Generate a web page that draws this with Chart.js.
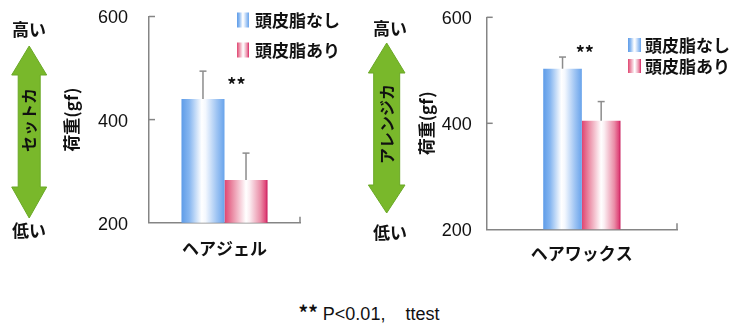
<!DOCTYPE html>
<html>
<head>
<meta charset="utf-8">
<script src="https://cdn.jsdelivr.net/npm/chart.js@4/dist/chart.umd.min.js"></script>
<style>
  html, body { margin: 0; padding: 0; background: #fff; }
  body { width: 745px; height: 324px; position: relative; overflow: hidden; }
  .panel { position: absolute; top: 0; }
  .panel canvas { display: block; }
  #note {
    position: absolute; left: 0; top: 298px; width: 738px; text-align: center;
    font: 18px "Liberation Sans", Arial, sans-serif; color: #111; white-space: pre;
  }
  #note b { font-family: "Noto Sans CJK JP", sans-serif; font-size: 19px; }
</style>
</head>
<body>
<div class="panel" style="left:0"><canvas id="gel" width="360" height="275"></canvas></div>
<div class="panel" style="left:360px"><canvas id="wax" width="385" height="275"></canvas></div>
<div id="note"><b>**</b> P&lt;0.01,    ttest</div>

<script>
// Series names shared by both panels
const seriesLabels = ['頭皮脂なし', '頭皮脂あり'];

// Hair gel: mean load (gf) and standard deviation
const gelCategories = ['ヘアジェル'];
const gelWithout = [440];
const gelWith = [283];
const gelWithoutSD = [54];
const gelWithSD = [52];

// Hair wax: mean load (gf) and standard deviation
const waxCategories = ['ヘアワックス'];
const waxWithout = [503];
const waxWith = [405];
const waxWithoutSD = [22];
const waxWithSD = [36];

// Value axis
const yTickValues = [200, 400, 600];
const yMin = 200;
const yMax = 600;
const yTitle = '荷重(gf)';

const CJK = '"Noto Sans CJK JP", "Noto Sans", sans-serif';
const LAT = '"Liberation Sans", Arial, sans-serif';

// Horizontal gradient fills: coloured edges, white highlight in the middle
const palettes = {
  blue: [[0, '#5e9ce8'], [0.18, '#86b6f0'], [0.47, '#ffffff'], [0.56, '#f4f8fe'], [0.82, '#9ec4f3'], [1, '#68a3eb']],
  red:  [[0, '#e04470'], [0.18, '#ea8aa3'], [0.5, '#ffffff'], [0.58, '#fbeef2'], [0.84, '#ea8da7'], [0.95, '#e04a7c'], [1, '#c8185a']]
};

function gradient(ctx, x0, x1, stops) {
  const g = ctx.createLinearGradient(x0, 0, x1, 0);
  stops.forEach(([p, c]) => g.addColorStop(p, c));
  return g;
}

function line(ctx, x0, y0, x1, y1) {
  ctx.beginPath();
  ctx.moveTo(x0, y0);
  ctx.lineTo(x1, y1);
  ctx.stroke();
}

// Gradient bars, error whiskers, axis tick marks, "**", legend and the side arrow
const decor = {
  id: 'decor',
  beforeDatasetsDraw(chart) {
    const ctx = chart.ctx;
    chart.data.datasets.forEach((ds, i) => {
      chart.getDatasetMeta(i).data.forEach(bar => {
        const {x, width} = bar.getProps(['x', 'width'], true);
        const fill = gradient(ctx, x - width / 2, x + width / 2, palettes[ds.palette]);
        bar.options = Object.assign({}, bar.options, {backgroundColor: fill});
      });
    });
  },
  afterDatasetsDraw(chart, args, o) {
    const {ctx, chartArea} = chart;
    const xs = chart.scales.x;
    const ys = chart.scales.y;
    ctx.save();

    // upward error whiskers with caps
    ctx.strokeStyle = '#8c8c8c';
    ctx.lineWidth = 1.5;
    chart.data.datasets.forEach((ds, i) => {
      chart.getDatasetMeta(i).data.forEach((bar, j) => {
        const top = ys.getPixelForValue(ds.data[j] + ds.errors[j]);
        line(ctx, bar.x, bar.y, bar.x, top);
        line(ctx, bar.x - 3.5, top, bar.x + 3.5, top);
      });
    });

    // tick marks pointing into the plot
    ctx.strokeStyle = '#858585';
    ctx.lineWidth = 1.5;
    ys.ticks.forEach(t => {
      const p = ys.getPixelForValue(t.value);
      if (p < chartArea.bottom - 2) line(ctx, chartArea.left, p, chartArea.left + 6, p);
    });
    line(ctx, chartArea.right, chartArea.bottom, chartArea.right, chartArea.bottom - 6);

    // significance mark
    const s = o.sig;
    ctx.fillStyle = '#111';
    ctx.font = 'bold 18px ' + CJK;
    ctx.textAlign = 'center';
    ctx.textBaseline = 'middle';
    ctx.fillText(s.text, xs.getPixelForValue(0) + s.dx, ys.getPixelForValue(s.value));
    ctx.restore();
  },
  afterDraw(chart, args, o) {
    const ctx = chart.ctx;
    ctx.save();

    // legend
    const L = o.legend;
    ctx.font = 'bold 17px ' + CJK;
    ctx.textAlign = 'left';
    ctx.textBaseline = 'middle';
    chart.data.datasets.forEach((ds, i) => {
      const cy = L.rows[i];
      ctx.fillStyle = gradient(ctx, L.x, L.x + L.w, palettes[ds.palette]);
      ctx.fillRect(L.x, cy - L.h / 2, L.w, L.h);
      ctx.fillStyle = '#111';
      ctx.fillText(ds.label, L.textX, cy + 1);
    });

    // double-headed green arrow with its caption
    const A = o.arrow;
    ctx.beginPath();
    ctx.moveTo(A.cx, A.tipTop);
    ctx.lineTo(A.cx + A.head, A.baseTop);
    ctx.lineTo(A.cx + A.shaft, A.baseTop);
    ctx.lineTo(A.cx + A.shaft, A.baseBottom);
    ctx.lineTo(A.cx + A.head, A.baseBottom);
    ctx.lineTo(A.cx, A.tipBottom);
    ctx.lineTo(A.cx - A.head, A.baseBottom);
    ctx.lineTo(A.cx - A.shaft, A.baseBottom);
    ctx.lineTo(A.cx - A.shaft, A.baseTop);
    ctx.lineTo(A.cx - A.head, A.baseTop);
    ctx.closePath();
    ctx.fillStyle = '#79b82b';
    ctx.fill();
    ctx.strokeStyle = '#6aa826';
    ctx.lineWidth = 1;
    ctx.stroke();

    ctx.fillStyle = '#111';
    ctx.textAlign = 'center';
    ctx.textBaseline = 'middle';
    ctx.font = 'bold 17px ' + CJK;
    ctx.fillText('高い', A.textX, A.highY);
    ctx.fillText('低い', A.textX, A.lowY);

    ctx.save();
    ctx.translate(A.cx, A.labelY);
    ctx.rotate(-Math.PI / 2);
    ctx.font = 'bold 16px ' + CJK;
    ctx.fillText(A.label, 0, 0);
    ctx.restore();

    ctx.restore();
  }
};

function makePanel(id, cfg) {
  const canvas = document.getElementById(id);
  const H = canvas.height;
  const W = canvas.width;
  return new Chart(canvas, {
    type: 'bar',
    data: {
      labels: cfg.categories,
      datasets: [
        {label: seriesLabels[0], data: cfg.without, errors: cfg.withoutSD, palette: 'blue'},
        {label: seriesLabels[1], data: cfg.with, errors: cfg.withSD, palette: 'red'}
      ]
    },
    options: {
      responsive: false,
      animation: false,
      events: [],
      categoryPercentage: cfg.catPct,
      barPercentage: 1,
      borderWidth: 0,
      layout: {padding: {left: 0, top: cfg.area.top, right: W - cfg.area.right, bottom: 0}},
      plugins: {
        legend: {display: false},
        tooltip: {enabled: false},
        decor: {sig: cfg.sig, legend: cfg.legend, arrow: cfg.arrow}
      },
      scales: {
        x: {
          grid: {display: false, drawTicks: false},
          border: {display: true, color: '#858585', width: 1.5},
          ticks: {padding: cfg.xPad, color: '#111', font: {family: CJK, size: 17, weight: 'bold'}},
          afterFit: s => { s.height = H - cfg.area.bottom; s.paddingLeft = 0; s.paddingRight = 0; }
        },
        y: {
          min: yMin,
          max: yMax,
          afterBuildTicks: s => { s.ticks = yTickValues.map(v => ({value: v})); },
          grid: {display: false, drawTicks: false},
          border: {display: true, color: '#858585', width: 1.5},
          ticks: {padding: cfg.yPad, labelOffset: 2, color: '#111', font: {family: LAT, size: 18}},
          title: {
            display: true, text: yTitle, color: '#111',
            font: {family: CJK, size: 17, weight: 'bold'},
            padding: {top: cfg.titleX - 10, bottom: 0}
          },
          afterFit: s => { s.width = cfg.area.left; s.paddingTop = 0; s.paddingBottom = 0; }
        }
      }
    },
    plugins: [decor]
  });
}

makePanel('gel', {
  categories: gelCategories,
  without: gelWithout, with: gelWith,
  withoutSD: gelWithoutSD, withSD: gelWithSD,
  area: {left: 149, right: 300, top: 16.5, bottom: 222.7},
  catPct: 0.57, xPad: 16, yPad: 21, titleX: 71,
  sig: {text: '**', value: 467, dx: 12},
  legend: {x: 237, w: 12, h: 15, rows: [20, 50], textX: 255},
  arrow: {cx: 29.2, tipTop: 46, baseTop: 75, baseBottom: 187, tipBottom: 218,
          head: 17.5, shaft: 11, label: 'セットカ', labelY: 120, textX: 29, highY: 30, lowY: 231}
});

makePanel('wax', {
  categories: waxCategories,
  without: waxWithout, with: waxWith,
  withoutSD: waxWithoutSD, withSD: waxWithSD,
  area: {left: 126.7, right: 317, top: 17.3, bottom: 229.3},
  catPct: 0.406, xPad: 14, yPad: 15, titleX: 66.5,
  sig: {text: '**', value: 533, dx: 3},
  legend: {x: 268, w: 13, h: 14, rows: [45, 66], textX: 285},
  arrow: {cx: 26.7, tipTop: 43, baseTop: 73, baseBottom: 185, tipBottom: 213,
          head: 18.3, shaft: 13, label: 'アレンジカ', labelY: 124, textX: 30, highY: 29, lowY: 233}
});
</script>
</body>
</html>
